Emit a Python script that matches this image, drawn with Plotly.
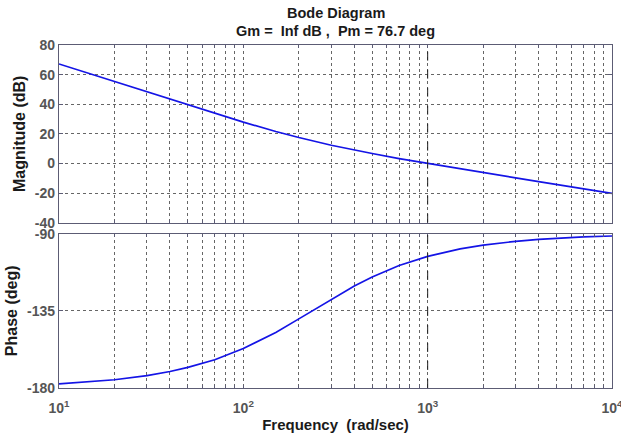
import plotly.graph_objects as go
from plotly.subplots import make_subplots

# Frequencies (rad/sec)
freq = [10, 15, 20, 30, 40, 50, 70, 100, 150, 200, 300, 400, 500, 700,
        1000, 1500, 2000, 3000, 4000, 5000, 7000, 10000]
# Magnitude (dB)
mag_db = [67.2, 60.2, 55.2, 48.2, 43.3, 39.4, 33.8, 27.9, 21.6, 17.5, 12.3,
          9.0, 6.7, 3.3, 0.0, -3.65, -6.2, -9.75, -12.26, -14.2, -17.1, -20.2]
# Phase (deg)
phase_deg = [-177.6, -176.4, -175.2, -172.8, -170.4, -168.0, -163.5, -157.0,
             -147.6, -139.7, -128.2, -120.5, -115.3, -108.6, -103.3, -98.9,
             -96.7, -94.5, -93.4, -92.7, -91.9, -91.4]

crossover_freq = 1000
mag_ticks = [-40, -20, 0, 20, 40, 60, 80]
phase_ticks = [-180, -135, -90]
decades = [10, 100, 1000, 10000]
decade_labels = ["10<sup>1</sup>", "10<sup>2</sup>", "10<sup>3</sup>", "10<sup>4</sup>"]
title_lines = ["Bode Diagram", "Gm =  Inf dB ,  Pm = 76.7 deg"]

grid_vals = []
for d in decades[:-1]:
    for k in range(1, 10):
        grid_vals.append(d * k)
grid_vals.append(decades[-1])
grid_text = ["<b>" + decade_labels[decades.index(v)] + "</b>" if v in decades else ""
             for v in grid_vals]

LINE = "#1414e6"
FRAME = "#5c5c74"
GRID = "#666666"
TXT = "#555555"
TITLE = "#1a1a1a"
FONT = "Liberation Sans, Arial, sans-serif"

fig = make_subplots(rows=2, cols=1, shared_xaxes=False, vertical_spacing=0.032,
                    row_heights=[0.535, 0.465])

fig.add_trace(go.Scatter(x=freq, y=mag_db, mode="lines",
                         line=dict(color=LINE, width=1.7), showlegend=False),
              row=1, col=1)
fig.add_trace(go.Scatter(x=freq, y=phase_deg, mode="lines",
                         line=dict(color=LINE, width=1.7), showlegend=False),
              row=2, col=1)

xcommon = dict(type="log", range=[1, 4], tickvals=grid_vals,
               showgrid=True, gridcolor=GRID, griddash="dot", gridwidth=1,
               showline=True, linecolor=FRAME, linewidth=1.2, mirror="ticks",
               ticks="inside", ticklen=3, tickcolor=FRAME,
               ticklabeloverflow="allow", automargin=False,
               zeroline=False, tickfont=dict(family=FONT, size=14, color=TXT))
fig.update_xaxes(**xcommon, ticktext=[""] * len(grid_vals), row=1, col=1)
fig.update_xaxes(**xcommon, ticktext=grid_text, row=2, col=1,
                 ticklabelstandoff=7,
                 title=dict(text="<b>Frequency  (rad/sec)</b>", standoff=4,
                            font=dict(family=FONT, size=15, color=TITLE)))

ycommon = dict(showgrid=True, gridcolor=GRID, griddash="dot", gridwidth=1,
               showline=True, linecolor=FRAME, linewidth=1.2, mirror="ticks",
               ticks="inside", ticklen=4, tickcolor=FRAME, zeroline=False,
               ticklabeloverflow="allow", automargin=False,
               tickfont=dict(family=FONT, size=14, color=TXT))
fig.update_yaxes(**ycommon, range=[-40, 80], tickvals=mag_ticks,
                 ticktext=[f"<b>{v}</b>" for v in mag_ticks], row=1, col=1,
                 title=dict(text="<b>Magnitude (dB)</b>", standoff=5,
                            font=dict(family=FONT, size=16, color=TITLE)))
fig.update_yaxes(**ycommon, range=[-180, -90], tickvals=phase_ticks,
                 ticktext=[f"<b>{v}</b>" for v in phase_ticks], row=2, col=1,
                 title=dict(text="<b>Phase (deg)</b>", standoff=5,
                            font=dict(family=FONT, size=16, color=TITLE)))

for r, (y0, y1) in zip([1, 2], [(-40, 80), (-180, -90)]):
    fig.add_shape(type="line", x0=crossover_freq, x1=crossover_freq, y0=y0, y1=y1,
                  line=dict(color="#222222", width=1, dash="dash"), row=r, col=1)

for txt, yy in zip(title_lines, [1.093, 1.041]):
    fig.add_annotation(text="<b>" + txt.replace("  ", "&nbsp; ") + "</b>",
                       xref="paper", yref="paper", x=0.5, y=yy,
                       xanchor="center", yanchor="middle", showarrow=False,
                       font=dict(family=FONT, size=14.5, color=TITLE))

fig.update_layout(
    width=621, height=441,
    margin=dict(l=59, r=9, t=45, b=53),
    paper_bgcolor="white", plot_bgcolor="white",
)

fig.write_html("out.html")
